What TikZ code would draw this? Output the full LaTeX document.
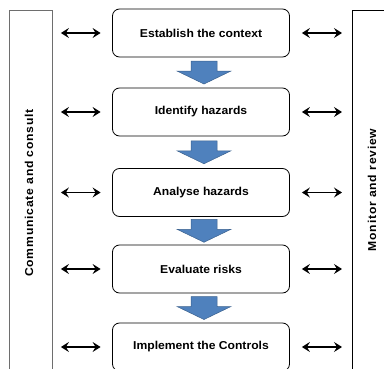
\documentclass[tikz,border=0pt]{standalone}
\usepackage{fontspec}
\setmainfont{Liberation Sans}[FakeStretch=1.06]
\usetikzlibrary{arrows.meta, positioning}
\definecolor{flowblue}{RGB}{79,129,189}
\definecolor{sidegray}{RGB}{110,110,110}

\begin{document}
\begin{tikzpicture}[
    x=1bp, y=-1bp,
    stepbox/.style={
        draw=black,
        line width=0.8bp,
        rounded corners=7bp,
        minimum width=177bp,
        minimum height=48bp,
        inner sep=0pt,
        fill=white,
        font=\bfseries\fontsize{11.5}{13}\selectfont
    },
    sidebar/.style={
        draw,
        line width=0.9bp,
        anchor=north west,
        minimum height=366bp,
        inner sep=0pt
    },
    sidelabel/.style={rotate=90, font=\bfseries\fontsize{11.5}{13}\selectfont\addfontfeature{LetterSpace=7}},
    link/.style={{Stealth[length=8bp,width=10bp,inset=3bp]}-{Stealth[length=8bp,width=10bp,inset=3bp]}, line width=1.7bp},
    flow/.style={fill=flowblue, draw=flowblue!75!black, line width=0.5bp}
]
    \useasboundingbox (0,0) rectangle (384,369);
    \clip (0,0) rectangle (384,369);

    % 两侧的竖条
    \node[sidebar, draw=sidegray, minimum width=43bp] (comm) at (9,10) {};
    \node[sidebar, minimum width=60bp] (monitor) at (352,10) {};
    \node[sidelabel] (commlabel) at (29,193) {Communicate and consult};
    \node[sidelabel] (monlabel) at (372,190) {Monitor and review};

    % 中间的步骤
    \node[stepbox] (ctx) at (201,33) {Establish the context};
    \node[stepbox] (hazid) at (201,112) {Identify hazards};
    \node[stepbox] (analyse) at (201,192.5) {Analyse hazards};
    \node[stepbox] (evaluate) at (201,269) {Evaluate risks};
    \node[stepbox] (implement) at (201,347) {Implement the Controls};

    % 蓝色箭头
    \foreach \a/\b in {ctx/hazid, hazid/analyse, analyse/evaluate, evaluate/implement} {
        \path (\a.south) -- (\b.north) coordinate[pos=0.5] (mid);
        \draw[flow, shift={(mid)}, xshift=3bp] (-13,-11.5) -- (13,-11.5) -- (13,-1.5) -- (27,-1.5)
            -- (0,11.5) -- (-27,-1.5) -- (-13,-1.5) -- cycle;
    }

    % 双向箭头
    \foreach \s in {ctx, hazid, analyse, evaluate, implement} {
        \draw[link, shorten <=8bp, shorten >=11.5bp] (\s.west -| comm.east) -- (\s.west);
        \draw[link, shorten <=12bp, shorten >=10bp] (\s.east) -- (\s.east -| monitor.west);
    }
\end{tikzpicture}
\end{document}
